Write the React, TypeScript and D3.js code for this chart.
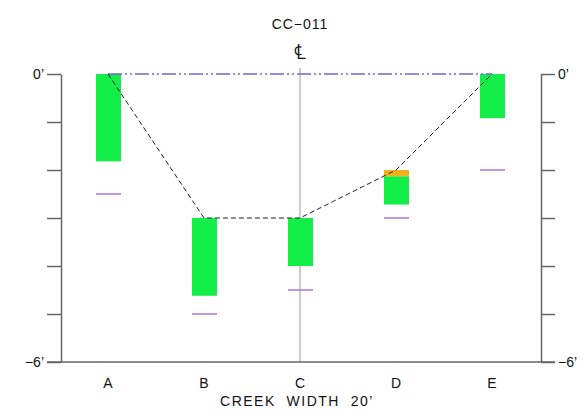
import React, { useEffect, useRef } from 'react';
import * as d3 from 'd3';

const WIDTH = 588;
const HEIGHT = 416;

const categories = ['A', 'B', 'C', 'D', 'E'];
// depths in feet below the 0' line
const bedDepth = [0, 3, 3, 2, 0];
const greenTop = [0, 3, 3, 2.13, 0];
const greenBottom = [1.82, 4.62, 4.0, 2.72, 0.92];
const orangeTop = [null, null, null, 2.0, null];
const purpleDepth = [2.5, 5.0, 4.5, 3.0, 2.0];
const depthTicks = [0, 1, 2, 3, 4, 5, 6];
const tickLabels: Record<number, string> = { 0: '0’', 6: '−6’' };

const FONT = '"Liberation Sans", Arial, sans-serif';

export default function App() {
  const leftRef = useRef<SVGGElement>(null);
  const rightRef = useRef<SVGGElement>(null);

  const x = d3.scalePoint<string>().domain(categories).range([108, 492]);
  const y = d3.scaleLinear().domain([0, 6]).range([74, 362]);
  const axisL = 61;
  const axisR = 541;
  const barW = 25;

  useEffect(() => {
    const fmt = (d: d3.NumberValue) => tickLabels[+d] || '';
    const styleAxis = (g: d3.Selection<SVGGElement, unknown, null, undefined>) => {
      g.selectAll('path').attr('stroke', '#666').attr('stroke-width', 1.5);
      g.selectAll('line').attr('stroke', '#666').attr('stroke-width', 1.5);
      g.selectAll('text')
        .attr('fill', '#111')
        .attr('font-family', FONT)
        .attr('font-size', 14);
    };
    const left = d3.select(leftRef.current!);
    left.selectAll('*').remove();
    left.attr('transform', `translate(${axisL},0)`)
      .call(d3.axisLeft(y).tickValues(depthTicks).tickSize(14).tickSizeOuter(0).tickPadding(3).tickFormat(fmt))
      .call(styleAxis);

    const right = d3.select(rightRef.current!);
    right.selectAll('*').remove();
    right.attr('transform', `translate(${axisR},0)`)
      .call(d3.axisRight(y).tickValues(depthTicks).tickSize(14).tickSizeOuter(0).tickPadding(3).tickFormat(fmt))
      .call(styleAxis);
  }, []);

  const profile = d3.line<number>()
    .x((_, i) => x(categories[i])!)
    .y(d => y(d));

  const cx = x('C')!;

  return (
    <svg width={WIDTH} height={HEIGHT} style={{ position: 'absolute', left: 0, top: 0, background: '#fff' }}>
      <text x={cx} y={29} textAnchor="middle" fontFamily={FONT} fontSize={14} letterSpacing={1} fill="#111">CC−011</text>
      <text x={cx} y={59} textAnchor="middle" fontFamily={FONT} fontSize={21} fill="#111">℄</text>

      {/* centerline */}
      <line x1={cx} x2={cx} y1={68} y2={y(6)} stroke="#bbb" strokeWidth={1.5} />

      {/* bars */}
      {categories.map((c, i) => (
        <rect key={'g' + c} x={x(c)! - 12} width={barW}
          y={y(greenTop[i])} height={y(greenBottom[i]) - y(greenTop[i])} fill="#14ee48" />
      ))}
      {categories.map((c, i) => orangeTop[i] == null ? null : (
        <rect key={'o' + c} x={x(c)! - 12} width={barW}
          y={y(orangeTop[i]!)} height={y(greenTop[i]) - y(orangeTop[i]!)} fill="#f2b21c" />
      ))}
      {categories.map((c, i) => (
        <line key={'p' + c} x1={x(c)! - 12} x2={x(c)! + 13} y1={y(purpleDepth[i])} y2={y(purpleDepth[i])}
          stroke="#a874e0" strokeWidth={1.5} />
      ))}

      {/* water surface */}
      <line x1={x('A')} x2={x('E')} y1={y(0)} y2={y(0)} stroke="#6a6ad4" strokeWidth={1.5}
        strokeDasharray="14 3 2 3 2 3" />

      {/* bed profile */}
      <path d={profile(bedDepth)!} fill="none" stroke="#222" strokeWidth={1} strokeDasharray="5 3" />

      {/* baseline */}
      <line x1={axisL - 14} x2={axisR + 14} y1={y(6)} y2={y(6)} stroke="#666" strokeWidth={1.5} />
      <g ref={leftRef} />
      <g ref={rightRef} />

      {categories.map(c => (
        <text key={'t' + c} x={x(c)} y={388} textAnchor="middle" fontFamily={FONT} fontSize={14} fill="#111">{c}</text>
      ))}
      <text x={297} y={406} textAnchor="middle" fontFamily={FONT} fontSize={14} letterSpacing={1.5}
        style={{ whiteSpace: 'pre' }} fill="#111">CREEK  WIDTH  20’</text>
    </svg>
  );
}
